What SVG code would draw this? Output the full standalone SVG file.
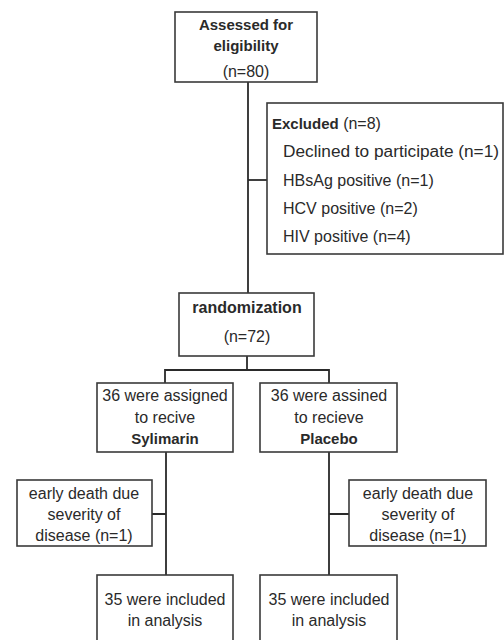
<svg xmlns="http://www.w3.org/2000/svg" width="504" height="640" viewBox="0 0 504 640">
<style>
.box{fill:#fff;stroke:#3a3a3a;stroke-width:1.6}
.ln{fill:none;stroke:#2a2a2a;stroke-width:1.8}
text{font-family:"Liberation Sans","Open Sans",Arial,sans-serif;font-size:16px;fill:#2a2a2a}
.c{text-anchor:middle}
.b{font-weight:bold;font-size:15px}
</style>
<rect width="504" height="640" fill="#fff"/>
<g id="connectors">
<path class="ln" d="M248,82 V293"/>
<path class="ln" d="M248,180 H267"/>
<path class="ln" d="M247,356 V370 M165,370 H329 M165,369 V383 M329,369 V383"/>
<path class="ln" d="M166,452 V575 M152,514 H166"/>
<path class="ln" d="M329,452 V575 M329,514 H349"/>
</g>
<g id="assessed">
<rect class="box" x="175" y="12" width="142" height="70"/>
<text class="c b" x="246" y="30">Assessed for</text>
<text class="c b" x="246" y="51">eligibility</text>
<text class="c" x="246" y="77">(n=80)</text>
</g>
<g id="excluded">
<rect class="box" x="267" y="103" width="236" height="151"/>
<text x="272" y="129"><tspan font-weight="bold" font-size="15">Excluded</tspan> (n=8)</text>
<text x="283" y="157" textLength="216" lengthAdjust="spacingAndGlyphs">Declined to participate (n=1)</text>
<text x="283" y="186">HBsAg positive (n=1)</text>
<text x="283" y="214">HCV positive (n=2)</text>
<text x="283" y="242">HIV positive (n=4)</text>
</g>
<g id="randomization">
<rect class="box" x="179" y="293" width="135" height="63"/>
<text class="c b" x="247" y="313" font-size="16" style="font-size:16px">randomization</text>
<text class="c" x="247" y="342">(n=72)</text>
</g>
<g id="sylimarin">
<rect class="box" x="97" y="383" width="136" height="69"/>
<text class="c" x="165" y="401">36 were assigned</text>
<text class="c" x="165" y="423">to recive</text>
<text class="c b" x="165" y="444">Sylimarin</text>
</g>
<g id="placebo">
<rect class="box" x="260" y="383" width="137" height="69"/>
<text class="c" x="329" y="401">36 were assined</text>
<text class="c" x="329" y="423">to recieve</text>
<text class="c b" x="329" y="444">Placebo</text>
</g>
<g id="death-left">
<rect class="box" x="17" y="480" width="135" height="66"/>
<text class="c" x="84" y="499">early death due</text>
<text class="c" x="84" y="520">severity of</text>
<text class="c" x="84" y="541">disease (n=1)</text>
</g>
<g id="death-right">
<rect class="box" x="349" y="480" width="137" height="66"/>
<text class="c" x="418" y="499">early death due</text>
<text class="c" x="418" y="520">severity of</text>
<text class="c" x="418" y="541">disease (n=1)</text>
</g>
<g id="included-left">
<rect class="box" x="97" y="575" width="136" height="70"/>
<text class="c" x="165" y="605">35 were included</text>
<text class="c" x="165" y="626">in analysis</text>
</g>
<g id="included-right">
<rect class="box" x="260" y="575" width="137" height="70"/>
<text class="c" x="329" y="605">35 were included</text>
<text class="c" x="329" y="626">in analysis</text>
</g>
</svg>
